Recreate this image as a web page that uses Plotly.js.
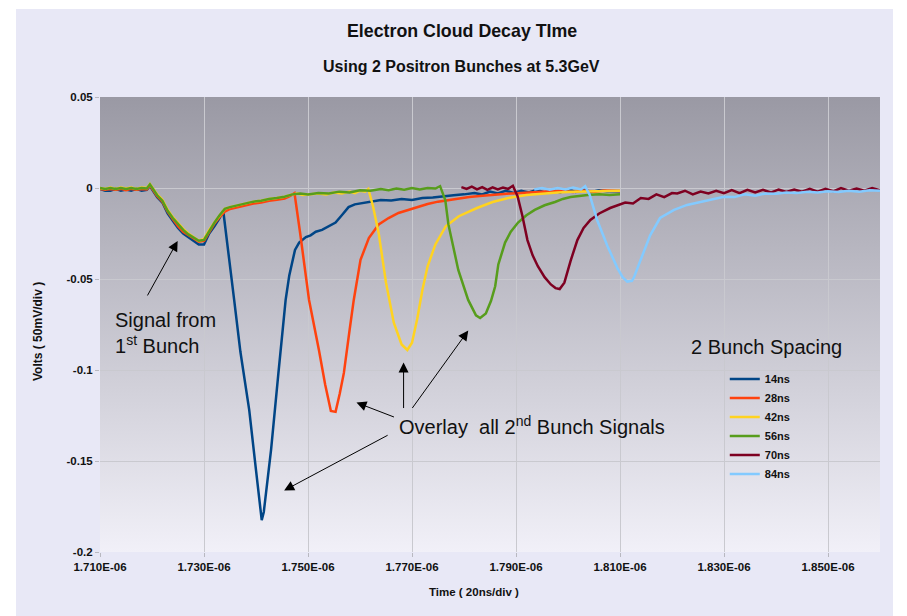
<!DOCTYPE html>
<html>
<head>
<meta charset="utf-8">
<script src="https://cdn.plot.ly/plotly-3.0.1.min.js"></script>
<style>
html,body{margin:0;padding:0;background:#ffffff;}
#bg{position:absolute;left:16px;top:9px;width:877px;height:607px;background:#e8e8f6;}
#plot{position:absolute;left:0;top:0;width:907px;height:616px;}
</style>
</head>
<body>
<div id="bg"></div>
<div id="plot"></div>
<script>
// ---- Data (time in ns, voltage in V) ----
const seriesNames = ["14ns", "28ns", "42ns", "56ns", "70ns", "84ns"];
const seriesColors = ["#004586", "#ff420e", "#ffd320", "#579d1c", "#7e0021", "#83caff"];

const xTickVals = [1710, 1730, 1750, 1770, 1790, 1810, 1830, 1850];
const xTickText = ["1.710E-06", "1.730E-06", "1.750E-06", "1.770E-06", "1.790E-06", "1.810E-06", "1.830E-06", "1.850E-06"];
const yTickVals = [0.05, 0, -0.05, -0.1, -0.15, -0.2];
const yTickText = ["0.05", "0", "-0.05", "-0.1", "-0.15", "-0.2"];

const t14 = [1710,1711,1712,1713,1714,1715,1716,1717,1718,1719,1719.6,1720.3,1721,1722,1723,1724,1725,1726,1727,1728,1729,1730,1731,1732,1733,1733.7,
  1734.5,1735.8,1737,1738.7,1740,1740.7,1741.1,1741.5,1742.2,1742.9,1744.3,1745.7,1746.4,1747.5,1748.3,1749.6,1750.5,1751.5,1752.7,1754,1755.3,1756.5,1757.8,1759,1760.5,1762,1764,1766,1768,1770,1772,1774,1776,1778,1780,1782,1783.5,1785,1786.5,1788,1789.5,1791,1792.5,1794,1795.5,1797,1798.5,1800,1801.5,1803,1804.5,1806,1807.5,1810];
const v14 = [-0.0005,-0.0015,-0.0015,-0.0005,-0.0015,-0.0008,-0.0015,-0.0005,-0.0015,-0.001,0.001,-0.002,-0.005,-0.008,-0.014,-0.018,-0.022,-0.025,-0.027,-0.0295,-0.031,-0.031,-0.025,-0.021,-0.0165,-0.0125,
  -0.030,-0.0615,-0.090,-0.122,-0.155,-0.172,-0.1825,-0.178,-0.160,-0.1438,-0.102,-0.0615,-0.048,-0.034,-0.030,-0.027,-0.026,-0.024,-0.023,-0.021,-0.019,-0.015,-0.0105,-0.009,-0.0082,-0.0075,-0.0066,-0.0068,-0.006,-0.0066,-0.0055,-0.0052,-0.0048,-0.004,-0.0035,-0.0027,-0.0035,-0.002,-0.003,-0.0015,-0.0027,-0.0015,-0.0025,-0.001,-0.0025,-0.0012,-0.0025,-0.0008,-0.0022,-0.001,-0.0022,-0.0012,-0.0018,-0.0018];

const t28 = [1710,1711,1712,1713,1714,1715,1716,1717,1718,1719,1719.6,1720.3,1721,1722,1723,1724,1725,1726,1727,1728,1729,1730,1731,1732,1733,1734,1735,1736.5,1738,1739.5,1741,1742.5,1744,1745.5,1746.5,1747.4,
  1748.5,1750.2,1752.1,1753.3,1754.4,1755.3,1756.1,1756.9,1758,1758.8,1760.1,1761.7,1763.6,1765.5,1767.4,1769.3,1771.3,1773,1775,1777,1779,1781,1783,1785,1787,1789,1791,1793,1795,1797,1799,1801,1803,1805,1807,1810];
const v28 = [-0.0005,-0.001,-0.0005,-0.001,-0.0005,-0.0012,-0.0005,-0.001,-0.0005,-0.0008,0.0015,-0.0015,-0.0045,-0.0075,-0.013,-0.017,-0.021,-0.024,-0.026,-0.028,-0.0295,-0.029,-0.024,-0.0195,-0.016,-0.013,-0.0115,-0.0105,-0.0095,-0.0085,-0.008,-0.007,-0.0065,-0.0058,-0.0045,-0.0028,
  -0.025,-0.0615,-0.089,-0.108,-0.1225,-0.123,-0.113,-0.1016,-0.078,-0.0615,-0.0395,-0.0275,-0.020,-0.0165,-0.0137,-0.012,-0.0099,-0.0088,-0.0075,-0.0066,-0.0058,-0.005,-0.0044,-0.0038,-0.0033,-0.003,-0.0027,-0.0022,-0.002,-0.0018,-0.0016,-0.0022,-0.0014,-0.002,-0.0014,-0.0016];

const t42 = [1710,1711,1712,1713,1714,1715,1716,1717,1718,1719,1719.6,1720.3,1721,1722,1723,1724,1725,1726,1727,1728,1729,1730,1731,1732,1733,1734,1735,1736.5,1738,1739.5,1741,1742.5,1744,1745.5,1747,1748,1749,1750.5,1752,1753.5,1755,1756.5,1758,1759,1760,1761,1761.6,
  1762.5,1763.6,1765,1766.5,1768,1769.1,1770,1771,1772,1773,1774.5,1776.5,1779,1782.5,1785.5,1788.5,1792,1795,1798,1801,1804,1807,1810];
const v42 = [0,-0.0005,0.0003,-0.0005,0.0003,-0.0003,0.0003,-0.0005,0.0003,0,0.0022,-0.001,-0.0035,-0.0065,-0.012,-0.016,-0.0195,-0.0225,-0.025,-0.027,-0.029,-0.028,-0.023,-0.019,-0.015,-0.0115,-0.0105,-0.0095,-0.0085,-0.0075,-0.007,-0.006,-0.0055,-0.0048,-0.0035,-0.003,-0.0038,-0.0035,-0.003,-0.0035,-0.0025,-0.003,-0.002,-0.0028,-0.0015,-0.002,-0.0005,
  -0.010,-0.025,-0.052,-0.074,-0.086,-0.089,-0.085,-0.072,-0.056,-0.043,-0.031,-0.021,-0.0155,-0.011,-0.0077,-0.0055,-0.0038,-0.003,-0.0025,-0.002,-0.0018,-0.0015,-0.0015];

const t56 = [1710,1711,1712,1713,1714,1715,1716,1717,1718,1719,1719.6,1720.3,1721,1722,1723,1724,1725,1726,1727,1728,1729,1730,1731,1732,1733,1734,1735,1736.5,1738,1739.5,1741,1742.5,1744,1745.5,1747,1748.5,1750,1752,1754,1756,1758,1760,1762,1764,1765.5,1767,1768.5,1770,1771.5,1773,1774.5,1775.4,
  1776.4,1777,1778.9,1780.8,1782.3,1783.1,1784.2,1785.2,1786,1786.6,1787.9,1789,1790.4,1792,1793.6,1795.5,1797.5,1799,1800.5,1802,1803.8,1806,1808,1810];
const v56 = [0,-0.0005,0,-0.0005,0,-0.0005,0,-0.0005,0,-0.0003,0.002,-0.0012,-0.004,-0.007,-0.0125,-0.0165,-0.020,-0.023,-0.0255,-0.0275,-0.029,-0.0285,-0.0235,-0.019,-0.015,-0.0115,-0.0105,-0.0095,-0.0085,-0.0075,-0.007,-0.006,-0.0055,-0.0048,-0.0035,-0.003,-0.0035,-0.0028,-0.003,-0.002,-0.0025,-0.0012,-0.0015,-0.0005,-0.0012,-0.0003,-0.001,0,-0.0008,0,-0.0003,0.001,
  -0.0066,-0.020,-0.045,-0.0615,-0.070,-0.0714,-0.069,-0.062,-0.054,-0.042,-0.030,-0.024,-0.019,-0.015,-0.012,-0.0095,-0.0077,-0.006,-0.005,-0.0045,-0.0038,-0.0035,-0.0038,-0.0035];

const t70 = [1779.5,1780.5,1781.5,1782.5,1783.5,1784.5,1785.5,1786.5,1787.5,1788.5,1789.4,1790.3,1791.2,1792.2,1793.2,1794.2,1795.5,1796.7,1797.6,1798.4,1799.3,1800.5,1801.8,1803,1804.3,1806,1808.1,1809.5,1811,1812.5,1814,1815.5,1817,1818.5,1820,
  1821,1822.5,1824,1825.5,1827,1828.5,1830,1831.5,1833,1834.5,1836,1837.5,1839,1840.5,1842,1843.5,1845,1846.5,1848,1849.5,1851,1852.5,1854,1855.5,1857,1858.5,1860];
const v70 = [0.0005,-0.0005,0.0008,-0.0008,0.0005,-0.001,0.0003,-0.0008,0.0003,-0.0005,0.0012,-0.0045,-0.015,-0.0286,-0.037,-0.043,-0.049,-0.053,-0.055,-0.0555,-0.052,-0.040,-0.0286,-0.022,-0.0176,-0.014,-0.011,-0.0095,-0.008,-0.0085,-0.0055,-0.006,-0.0035,-0.005,-0.0028,
  -0.003,-0.0015,-0.0035,-0.002,-0.003,-0.0015,-0.0028,-0.0012,-0.0028,-0.001,-0.0025,-0.001,-0.0025,-0.0008,-0.0022,-0.0008,-0.002,-0.0005,-0.002,-0.0005,-0.0018,0,-0.0015,-0.0003,-0.0015,0,-0.0012];

const t84 = [1793.5,1795,1796.5,1798,1799.5,1801,1802.5,1803.3,1804.2,1805.6,1807.6,1809.5,1810.5,1811.4,1812.3,1812.7,1813.9,1815.8,1817.7,1820.4,1822.9,1826,1828,1830,1832,1834,1836,1838,1840,1842,1844,1846,1848,1850,1852,1854,1856,1858,1860];
const v84 = [-0.0008,0,-0.001,0,-0.0008,0.0003,-0.0008,0.001,-0.004,-0.0176,-0.032,-0.044,-0.049,-0.0514,-0.051,-0.049,-0.040,-0.026,-0.0165,-0.012,-0.0093,-0.0075,-0.006,-0.0048,-0.005,-0.0035,-0.0042,-0.003,-0.0032,-0.0025,-0.0028,-0.002,-0.0025,-0.0018,-0.0022,-0.0015,-0.002,-0.0012,-0.0015];

const xs = [t14, t28, t42, t56, t70, t84];
const ys = [v14, v28, v42, v56, v70, v84];

const traces = seriesNames.map((name, i) => ({
  type: "scatter",
  mode: "lines",
  name: name,
  x: xs[i],
  y: ys[i],
  line: {color: seriesColors[i], width: 2.5},
  hoverinfo: "skip"
}));

const gradSvg = "<svg xmlns='http://www.w3.org/2000/svg' width='10' height='100' preserveAspectRatio='none'>" +
  "<defs><linearGradient id='g' x1='0' y1='0' x2='0' y2='1'>" +
  "<stop offset='0' stop-color='#9a99a4'/><stop offset='1' stop-color='#f1f0f8'/>" +
  "</linearGradient></defs><rect width='10' height='100' fill='url(#g)'/></svg>";

const font = "Liberation Sans, Arial, sans-serif";
const black = "#111111";

function arrow(x, y, ax, ay) {
  return {xref: "x", yref: "y", x: x, y: y, ax: ax, ay: ay, text: "",
    showarrow: true, arrowhead: 2, arrowsize: 2, arrowwidth: 1, arrowcolor: "#000000", standoff: 0};
}

const layout = {
  width: 907,
  height: 616,
  margin: {l: 100, r: 27, t: 97, b: 64},
  paper_bgcolor: "rgba(0,0,0,0)",
  plot_bgcolor: "rgba(0,0,0,0)",
  showlegend: true,
  legend: {
    x: 0.801, y: 0.412, xanchor: "left", yanchor: "top",
    bgcolor: "rgba(0,0,0,0)",
    font: {family: font, size: 11, color: black, weight: "bold"},
    tracegroupgap: 0
  },
  xaxis: {
    range: [1710, 1860],
    tickvals: xTickVals,
    ticktext: xTickText,
    tickfont: {family: font, size: 11.5, color: black, weight: "bold"},
    showgrid: true, gridcolor: "#c9c9cf", gridwidth: 1,
    zeroline: false, showline: false,
    ticks: "outside", ticklen: 4, tickcolor: "#b8b8c0"
  },
  yaxis: {
    range: [-0.2, 0.05],
    tickvals: yTickVals,
    ticktext: yTickText,
    tickfont: {family: font, size: 11.5, color: black, weight: "bold"},
    showgrid: true, gridcolor: "#c9c9cf", gridwidth: 1,
    zeroline: false, showline: false,
    ticks: "outside", ticklen: 4, tickcolor: "#b8b8c0"
  },
  images: [{
    source: "data:image/svg+xml;charset=utf-8," + encodeURIComponent(gradSvg),
    xref: "paper", yref: "paper", x: 0, y: 1, sizex: 1, sizey: 1,
    xanchor: "left", yanchor: "top", sizing: "stretch", layer: "below"
  }],
  annotations: [
    {xref: "paper", yref: "paper", x: 0.464, y: 1.145, text: "Electron Cloud Decay TIme", showarrow: false,
      font: {family: font, size: 17.8, color: black, weight: "bold"}, xanchor: "center", yanchor: "middle"},
    {xref: "paper", yref: "paper", x: 0.464, y: 1.066, text: "Using 2 Positron Bunches at 5.3GeV", showarrow: false,
      font: {family: font, size: 16, color: black, weight: "bold"}, xanchor: "center", yanchor: "middle"},
    {xref: "paper", yref: "paper", x: 0.4795, y: -0.088, text: "Time ( 20ns/div )", showarrow: false,
      font: {family: font, size: 11.5, color: black, weight: "bold"}, xanchor: "center", yanchor: "middle"},
    {xref: "paper", yref: "paper", x: -0.0795, y: 0.4857, text: "Volts ( 50mV/div )", showarrow: false, textangle: -90,
      font: {family: font, size: 12, color: black, weight: "bold"}, xanchor: "center", yanchor: "middle"},
    {xref: "paper", yref: "paper", x: 0.854, y: 0.4505, text: "2 Bunch Spacing", showarrow: false,
      font: {family: font, size: 20, color: black}, xanchor: "center", yanchor: "middle"},
    {xref: "paper", yref: "paper", x: 0.0167, y: 0.481, text: "Signal from<br>1<sup>st</sup> Bunch", showarrow: false, align: "left",
      font: {family: font, size: 20, color: black}, xanchor: "left", yanchor: "middle"},
    {xref: "paper", yref: "paper", x: 0.3808, y: 0.277, text: "Overlay\u00a0 all 2<sup>nd</sup> Bunch Signals", showarrow: false,
      font: {family: font, size: 20, color: black}, xanchor: "left", yanchor: "middle"},
    arrow(1724.93, -0.0291, -31, 56),
    arrow(1745.41, -0.1662, 105, -56),
    arrow(1759.32, -0.1179, 39, 15),
    arrow(1768.38, -0.0959, 0, 47),
    arrow(1780.82, -0.0783, -57, 79)
  ]
};

Plotly.newPlot("plot", traces, layout, {staticPlot: true, displayModeBar: false});
</script>
</body>
</html>
